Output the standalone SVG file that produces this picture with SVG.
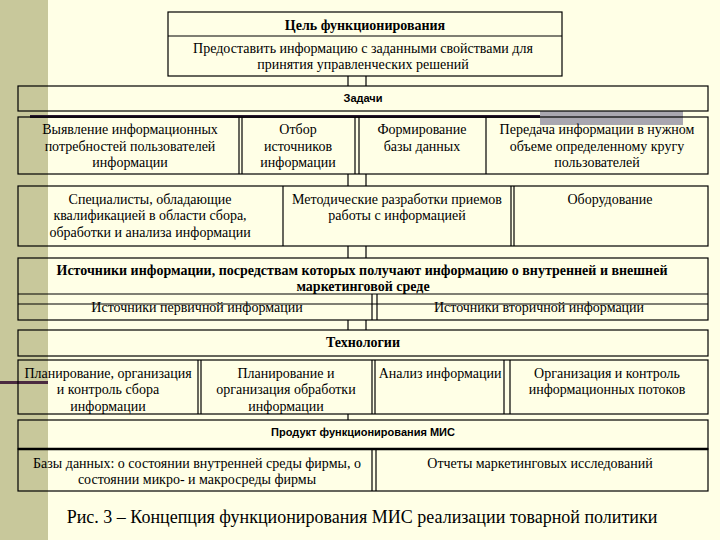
<svg xmlns="http://www.w3.org/2000/svg" width="720" height="540" viewBox="0 0 720 540">
<style>
.bx{fill:none;stroke:#000;stroke-width:1.2}
.ln{stroke:#000;stroke-width:1.2;fill:none}
.t{font-family:"Liberation Serif","DejaVu Serif",serif;font-size:14px;fill:#000;text-anchor:middle}
.tb{font-family:"Liberation Serif","DejaVu Serif",serif;font-size:14px;font-weight:bold;fill:#000;text-anchor:middle}
.ts{font-family:"Liberation Sans","DejaVu Sans",sans-serif;font-size:11px;font-weight:bold;fill:#000;text-anchor:middle}
.cap{font-family:"Liberation Serif","DejaVu Serif",serif;font-size:18px;fill:#000;text-anchor:middle}
</style>
<rect x="0" y="0" width="720" height="540" fill="#FFFFE6"/>
<rect x="0" y="0" width="48" height="540" fill="#C8C89B"/>
<g id="decor">
<rect x="540" y="111" width="143" height="14" fill="#A9A7B0"/>
<rect x="30" y="115" width="510" height="3" fill="#2A1830"/>
<rect x="0" y="381" width="48" height="3" fill="#4A2A40"/>
</g>
<g id="connectors">
<line class="ln" x1="348" y1="76" x2="348" y2="86"/>
<line class="ln" x1="366" y1="76" x2="366" y2="86"/>
<line class="ln" x1="348" y1="174" x2="348" y2="186"/>
<line class="ln" x1="366" y1="174" x2="366" y2="186"/>
<line class="ln" x1="348" y1="246" x2="348" y2="258"/>
<line class="ln" x1="366" y1="246" x2="366" y2="258"/>
<line class="ln" x1="348" y1="320" x2="348" y2="330"/>
<line class="ln" x1="366" y1="320" x2="366" y2="330"/>
<line class="ln" x1="348" y1="414" x2="348" y2="420"/>
</g>
<g id="goal">
<rect class="bx" x="168" y="12" width="394" height="64"/>
<line class="ln" x1="168" y1="36" x2="562" y2="36"/>
<text class="tb" x="365" y="30">Цель функционирования</text>
<text class="t" x="363" y="53">Предоставить информацию с заданными свойствами для</text>
<text class="t" x="363" y="69">принятия управленческих решений</text>
</g>
<g id="tasks">
<rect class="bx" x="18" y="86" width="690" height="25"/>
<text class="ts" x="363" y="102">Задачи</text>
</g>
<g id="task-row">
<rect class="bx" x="18" y="117" width="690" height="57"/>
<line class="ln" x1="239" y1="117" x2="239" y2="174"/>
<line class="ln" x1="242" y1="117" x2="242" y2="174"/>
<line class="ln" x1="355" y1="117" x2="355" y2="174"/>
<line class="ln" x1="359" y1="117" x2="359" y2="174"/>
<line class="ln" x1="486" y1="117" x2="486" y2="174"/>
<text class="t" x="130" y="134">Выявление информационных</text>
<text class="t" x="130" y="151">потребностей пользователей</text>
<text class="t" x="130" y="167">информации</text>
<text class="t" x="298" y="134">Отбор</text>
<text class="t" x="298" y="151">источников</text>
<text class="t" x="298" y="167">информации</text>
<text class="t" x="422" y="134">Формирование</text>
<text class="t" x="422" y="151">базы данных</text>
<text class="t" x="597" y="134">Передача информации в нужном</text>
<text class="t" x="597" y="151">объеме определенному кругу</text>
<text class="t" x="597" y="167">пользователей</text>
</g>
<g id="resources">
<rect class="bx" x="18" y="186" width="690" height="60"/>
<line class="ln" x1="283" y1="186" x2="283" y2="246"/>
<line class="ln" x1="511" y1="186" x2="511" y2="246"/>
<line class="ln" x1="514" y1="186" x2="514" y2="246"/>
<text class="t" x="150" y="204">Специалисты, обладающие</text>
<text class="t" x="150" y="220">квалификацией в области сбора,</text>
<text class="t" x="150" y="237">обработки и анализа информации</text>
<text class="t" x="397" y="204">Методические разработки приемов</text>
<text class="t" x="397" y="220">работы с информацией</text>
<text class="t" x="610" y="204">Оборудование</text>
</g>
<g id="sources">
<rect class="bx" x="18" y="258" width="690" height="62"/>
<line class="ln" x1="18" y1="294" x2="708" y2="294"/>
<line class="ln" x1="372" y1="294" x2="372" y2="320"/>
<line class="ln" x1="377" y1="294" x2="377" y2="320"/>
<text class="tb" x="362" y="275">Источники информации, посредствам которых получают информацию о внутренней и внешней</text>
<text class="tb" x="363" y="291">маркетинговой среде</text>
<text class="t" x="197" y="312">Источники первичной информации</text>
<text class="t" x="539" y="312">Источники вторичной информации</text>
<line class="ln" x1="18" y1="304" x2="708" y2="304"/>
</g>
<g id="technologies">
<rect class="bx" x="18" y="330" width="690" height="26"/>
<text class="tb" x="363" y="347">Технологии</text>
</g>
<g id="tech-row">
<rect class="bx" x="18" y="360" width="690" height="54"/>
<line class="ln" x1="198" y1="360" x2="198" y2="414"/>
<line class="ln" x1="201" y1="360" x2="201" y2="414"/>
<line class="ln" x1="372" y1="360" x2="372" y2="414"/>
<line class="ln" x1="375" y1="360" x2="375" y2="414"/>
<line class="ln" x1="504" y1="360" x2="504" y2="414"/>
<line class="ln" x1="510" y1="360" x2="510" y2="414"/>
<text class="t" x="108" y="378">Планирование, организация</text>
<text class="t" x="108" y="394">и контроль сбора</text>
<text class="t" x="108" y="411">информации</text>
<text class="t" x="286" y="378">Планирование и</text>
<text class="t" x="286" y="394">организация обработки</text>
<text class="t" x="286" y="411">информации</text>
<text class="t" x="440" y="378">Анализ информации</text>
<text class="t" x="607" y="378">Организация и контроль</text>
<text class="t" x="607" y="394">информационных потоков</text>
</g>
<g id="product">
<rect class="bx" x="18" y="420" width="690" height="29"/>
<line x1="18" y1="449" x2="708" y2="449" stroke="#000" stroke-width="2.5"/>
<text class="ts" x="363" y="436">Продукт функционирования МИС</text>
</g>
<g id="outputs">
<rect class="bx" x="18" y="449" width="690" height="42"/>
<line class="ln" x1="372" y1="449" x2="372" y2="491"/>
<line class="ln" x1="376" y1="449" x2="376" y2="491"/>
<text class="t" x="197" y="468">Базы данных: о состоянии внутренней среды фирмы, о</text>
<text class="t" x="197" y="484">состоянии микро- и макросреды фирмы</text>
<text class="t" x="540" y="468">Отчеты маркетинговых исследований</text>
</g>
<text class="cap" x="362" y="523">Рис. 3 – Концепция функционирования МИС реализации товарной политики</text>
</svg>
